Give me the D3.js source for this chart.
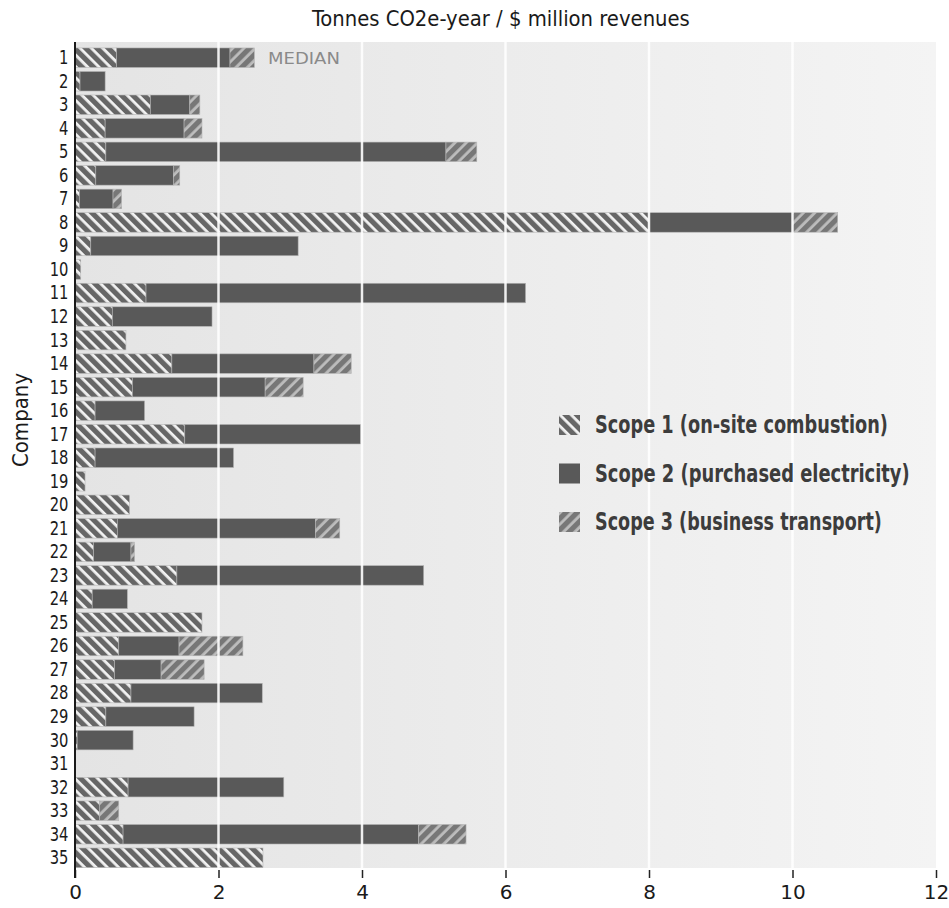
<!DOCTYPE html>
<html>
<head>
<meta charset="utf-8">
<script src="https://cdn.jsdelivr.net/npm/d3@7"></script>
<style>
  html, body { margin: 0; padding: 0; background: #ffffff; }
  svg { display: block; }
  .cond { font-family: "DejaVu Sans Condensed", "DejaVu Sans", sans-serif; font-stretch: condensed; }
</style>
</head>
<body>
<svg id="chart" width="949" height="908"></svg>
<script>
const companies = d3.range(1, 36).map(String);
const scope1 = [0.58,0.07,1.05,0.42,0.43,0.29,0.06,8.0,0.22,0.08,0.99,0.52,0.71,1.35,0.80,0.28,1.53,0.28,0.14,0.76,0.59,0.26,1.42,0.24,1.77,0.61,0.55,0.78,0.43,0.03,0,0.74,0.34,0.67,2.62];
const scope2 = [1.58,0.35,0.55,1.10,4.74,1.08,0.47,2.0,2.89,0,5.29,1.39,0,1.98,1.85,0.69,2.45,1.93,0,0,2.76,0.52,3.44,0.49,0,0.84,0.65,1.83,1.23,0.78,0,2.17,0,4.12,0];
const scope3 = [0.34,0,0.14,0.25,0.43,0.09,0.12,0.63,0,0,0,0,0,0.52,0.53,0,0,0,0,0,0.34,0.05,0,0,0,0.89,0.60,0,0,0,0,0,0.27,0.66,0];
const xTicks = [0,2,4,6,8,10,12];
const seriesKeys = ["s1","s2","s3"];
const legendLabels = ["Scope 1 (on-site combustion)", "Scope 2 (purchased electricity)", "Scope 3 (business transport)"];
const legendWidths = [293, 315, 287];
const titleText = "Tonnes CO2e-year / $ million revenues";

const rows = companies.map((c, i) => ({company: c, s1: scope1[i], s2: scope2[i], s3: scope3[i]}));

const svg = d3.select("#chart");
const plotTop = 42, plotBottom = 868;
const x = d3.scaleLinear().domain([0, 12]).range([75, 936]);
const y = d3.scaleBand().domain(companies).range([45.6, 869.9]).paddingInner(0.17).paddingOuter(0.1);

const defs = svg.append("defs");
const grad = defs.append("linearGradient").attr("id", "bg").attr("x1", "0%").attr("x2", "100%");
grad.append("stop").attr("offset", "0%").attr("stop-color", "#e4e4e4");
grad.append("stop").attr("offset", "100%").attr("stop-color", "#f4f4f4");

function hatch(id, angle, dark, light) {
  const p = defs.append("pattern").attr("id", id).attr("patternUnits", "userSpaceOnUse")
    .attr("width", 8).attr("height", 8).attr("patternTransform", `rotate(${angle})`);
  p.append("rect").attr("width", 8).attr("height", 8).attr("fill", light);
  p.append("rect").attr("width", 5.2).attr("height", 8).attr("fill", dark);
}
hatch("p1", -45, "#666666", "#f2f2f2");
hatch("p3", 45, "#777777", "#bdbdbd");
const fills = {s1: "url(#p1)", s2: "#595959", s3: "url(#p3)"};

// fit a text horizontally to a target width, anchored at its left x
function fitText(sel, left, baseline, width) {
  sel.attr("x", 0).attr("y", 0);
  const w = sel.node().getComputedTextLength();
  const k = width / w;
  sel.attr("transform", `translate(${left},${baseline}) scale(${k},1)`);
}

// background
svg.append("rect").attr("x", x(0)).attr("y", plotTop).attr("width", x(12) - x(0)).attr("height", plotBottom - plotTop)
  .attr("fill", "url(#bg)");

// bars
const stack = d3.stack().keys(seriesKeys)(rows);
svg.append("g").selectAll("g").data(stack).join("g")
  .attr("fill", d => fills[d.key])
  .selectAll("rect").data(d => d.filter(v => v[1] - v[0] > 0)).join("rect")
  .attr("x", d => x(d[0]))
  .attr("y", d => y(d.data.company))
  .attr("width", d => x(d[1]) - x(d[0]))
  .attr("height", y.bandwidth())
  .attr("stroke", "#b5b5b5").attr("stroke-width", 0.6);

// gridlines over bars
svg.append("g").selectAll("line").data(xTicks.filter(t => t > 0 && t < 12)).join("line")
  .attr("x1", d => x(d)).attr("x2", d => x(d))
  .attr("y1", plotTop).attr("y2", plotBottom)
  .attr("stroke", "#ffffff").attr("stroke-width", 2.5).attr("opacity", 0.9);

// x axis
const xAxis = d3.axisBottom(x).tickValues(xTicks).tickSize(8).tickSizeOuter(0).tickPadding(7).tickFormat(d3.format("d"));
const gx = svg.append("g").attr("transform", `translate(0,${plotBottom + 2})`).call(xAxis);
gx.select(".domain").remove();
gx.selectAll(".tick line").attr("stroke", "#222").attr("stroke-width", 1.5);
gx.selectAll(".tick text").attr("fill", "#1a1a1a").attr("font-size", 20)
  .attr("font-family", "'DejaVu Sans', sans-serif");

// y axis
const yAxis = d3.axisLeft(y).tickSize(0).tickPadding(8);
const gy = svg.append("g").attr("transform", `translate(${x(0)},0)`).call(yAxis);
gy.select(".domain").remove();
gy.selectAll(".tick text").attr("class", "cond").attr("fill", "#1a1a1a").attr("font-size", 20)
  .attr("transform", "scale(0.82,1)");
svg.append("line").attr("x1", x(0)).attr("x2", x(0)).attr("y1", plotTop).attr("y2", plotBottom + 10)
  .attr("stroke", "#1a1a1a").attr("stroke-width", 2);

// title
fitText(svg.append("text").attr("class", "cond").attr("font-size", 21).attr("fill", "#1a1a1a").text(titleText),
  312, 26, 378);

// y title
svg.append("text").attr("class", "cond").attr("transform", "translate(28,420) rotate(-90)")
  .attr("text-anchor", "middle").attr("font-size", 22).attr("fill", "#1a1a1a").text("Company");

// median label
fitText(svg.append("text").attr("font-family", "'DejaVu Sans', sans-serif").attr("font-size", 16)
  .attr("fill", "#8a8a8a").text("MEDIAN"), 268, y("1") + y.bandwidth() / 2 + 6, 72);

// legend
const legend = svg.append("g");
seriesKeys.forEach((k, i) => {
  const cy = 425 + i * 48.5;
  legend.append("rect").attr("x", 559).attr("y", cy - 10).attr("width", 21).attr("height", 20).attr("fill", fills[k]);
  fitText(legend.append("text").attr("class", "cond").attr("font-size", 24).attr("font-weight", "bold")
    .attr("fill", "#3c3c3c").text(legendLabels[i]), 595, cy + 8, legendWidths[i]);
});
</script>
</body>
</html>
